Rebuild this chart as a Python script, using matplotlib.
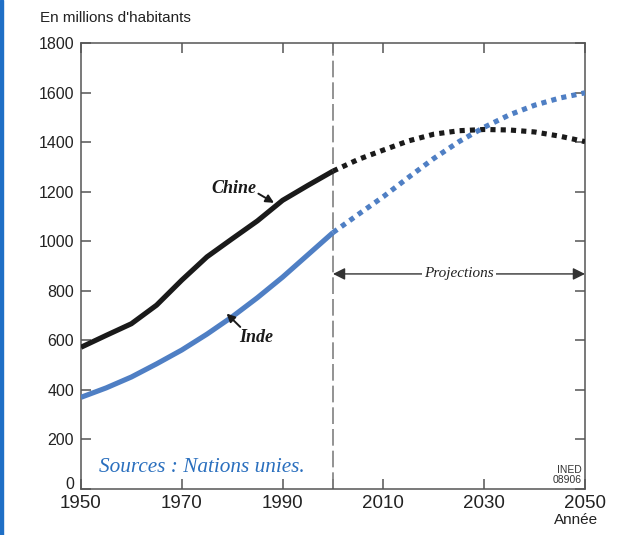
import matplotlib.pyplot as plt
from matplotlib.patches import Rectangle

# donnees (millions d'habitants)
annees_obs = [1950, 1955, 1960, 1965, 1970, 1975, 1980, 1985, 1990, 1995, 2000]
chine_obs = [572, 620, 667, 742, 843, 937, 1010, 1082, 1165, 1225, 1283]
inde_obs = [370, 408, 452, 505, 561, 625, 695, 772, 855, 945, 1035]

annees_proj = [2000, 2005, 2010, 2015, 2020, 2025, 2030, 2035, 2040, 2045, 2050]
chine_proj = [1283, 1330, 1368, 1405, 1432, 1446, 1451, 1449, 1441, 1424, 1402]
inde_proj = [1035, 1108, 1180, 1258, 1334, 1402, 1460, 1510, 1549, 1578, 1599]

xticks = [1950, 1970, 1990, 2000, 2010, 2030, 2050]
xlabels = ['1950', '1970', '1990', '', '2010', '2030', '2050']
yticks = list(range(0, 1801, 200))

noir = '#1a1a1a'
bleu = '#4f7fc4'
gris = '#555555'

fig = plt.figure(figsize=(6.22, 5.35), dpi=100)
ax = fig.add_axes([0.1302, 0.0860, 0.8103, 0.8336])

# liseret bleu a gauche
fig.patches.append(Rectangle((0, 0), 0.0045, 1, transform=fig.transFigure,
                             color='#1f6fc6', zorder=0))

ax.plot(annees_obs, chine_obs, color=noir, lw=3.7, solid_capstyle='butt', zorder=3)
ax.plot(annees_obs, inde_obs, color=bleu, lw=3.7, solid_capstyle='butt', zorder=3)
ax.plot(annees_proj, chine_proj, color=noir, lw=3.7, linestyle=(0, (1, 1)),
        dash_capstyle='butt', zorder=3)
ax.plot(annees_proj, inde_proj, color=bleu, lw=3.7, linestyle=(0, (1, 1)),
        dash_capstyle='butt', zorder=3)

ax.axvline(2000, color='#808080', lw=1.2, linestyle=(0, (10, 3)), zorder=2)

ax.set_xlim(1950, 2050)
ax.set_ylim(0, 1800)
ax.set_xticks(xticks)
ax.set_xticklabels(xlabels)
ax.set_yticks(yticks)
ax.tick_params(direction='in', length=7, width=1.1, color=gris,
               top=True, right=True, labelsize=11.5, pad=5)
ax.tick_params(axis='x', labelsize=13.5, pad=4)
for lab in ax.get_xticklabels() + ax.get_yticklabels():
    lab.set_fontfamily('Liberation Sans')
    lab.set_color('#222222')
ax.get_yticklabels()[0].set_va('baseline')
for sp in ax.spines.values():
    sp.set_color(gris)
    sp.set_linewidth(1.1)

# fleche Projections
ax.annotate('', xy=(2050, 868), xytext=(2000, 868),
            arrowprops=dict(arrowstyle='<|-|>', color='#333333', lw=1.0,
                            mutation_scale=18, shrinkA=0, shrinkB=0))
ax.text(2025, 868, 'Projections', family='Liberation Serif', style='italic',
        fontsize=11, ha='center', va='center', color='#222222',
        bbox=dict(facecolor='white', edgecolor='none', pad=1.5), zorder=4)

# etiquettes des series
ax.text(1980.3, 1212, 'Chine', family='Liberation Serif', style='italic',
        weight='bold', fontsize=13, ha='center', va='center', color=noir)
ax.annotate('', xy=(1988.3, 1155), xytext=(1985.2, 1192),
            arrowprops=dict(arrowstyle='-|>', color=noir, lw=1.4,
                            mutation_scale=12, shrinkA=0, shrinkB=0))
ax.text(1984.7, 612, 'Inde', family='Liberation Serif', style='italic',
        weight='bold', fontsize=13, ha='center', va='center', color=noir)
ax.annotate('', xy=(1978.9, 708), xytext=(1981.6, 654),
            arrowprops=dict(arrowstyle='-|>', color=noir, lw=1.4,
                            mutation_scale=12, shrinkA=0, shrinkB=0))

ax.text(1953.5, 85, 'Sources : Nations unies.', family='Liberation Serif',
        style='italic', fontsize=15.3, color='#2a6fbe', ha='left', va='center')
ax.text(2049.3, 15, 'INED\n08906', family='Liberation Sans', fontsize=7.5,
        color='#333333', ha='right', va='bottom', linespacing=1.0)

fig.text(40 / 622, 1 - 18 / 535, "En millions d'habitants", family='Liberation Sans',
         fontsize=11, color='#222222', ha='left', va='center')
fig.text(598 / 622, 1 - 520 / 535, 'Année', family='Liberation Sans',
         fontsize=11, color='#222222', ha='right', va='center')

fig.savefig('out.png', dpi=100)
